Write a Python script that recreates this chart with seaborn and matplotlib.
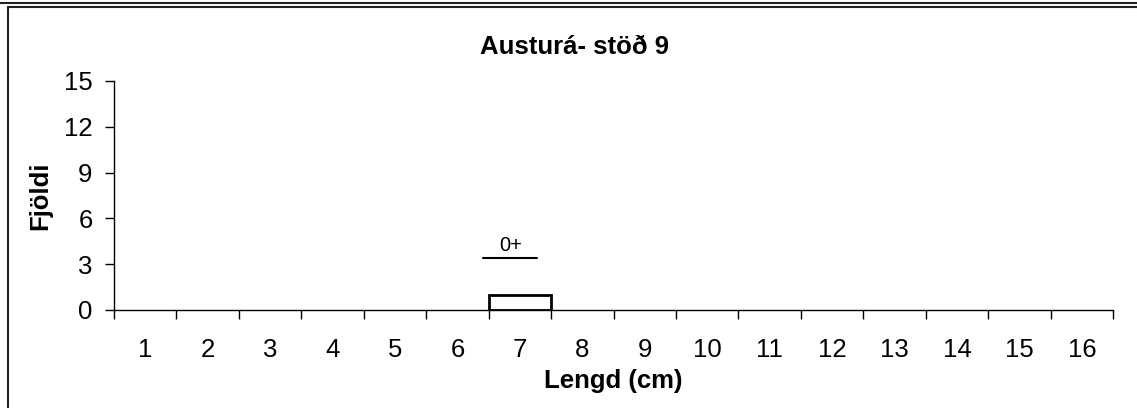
import pandas as pd
import matplotlib
matplotlib.use("Agg")
import matplotlib.pyplot as plt
from matplotlib.lines import Line2D
import seaborn as sns

# gögn: lengdardreifing
lengdir = list(range(1, 17))
fjoldi = [0, 0, 0, 0, 0, 0, 1, 0, 0, 0, 0, 0, 0, 0, 0, 0]
aldur_merki = "0+"
titill = "Austurá- stöð 9"

df = pd.DataFrame({"Lengd": [str(x) for x in lengdir], "Fjoldi": fjoldi})

sns.set_style("white", {"text.color": "black", "axes.labelcolor": "black",
                        "xtick.color": "black", "ytick.color": "black"})
plt.rcParams["font.family"] = ["Liberation Sans", "DejaVu Sans"]

fig = plt.figure(figsize=(11.37, 4.08), dpi=100)
ax = fig.add_axes([0.1003, 0.2402, 0.8787, 0.5613])

sns.barplot(x="Lengd", y="Fjoldi", data=df, ax=ax, width=1.0,
            color="white", edgecolor="black", linewidth=2, saturation=1)
for p in ax.patches:
    if p.get_height() == 0:
        p.set_visible(False)

ax.set_xlim(-0.5, 15.5)
ax.set_ylim(0, 15)
ax.set_yticks(range(0, 16, 3))
ax.set_xticks(range(16))
ax.set_xticklabels([str(x) for x in lengdir])
ax.set_xticks([i - 0.5 for i in range(17)], minor=True)
ax.tick_params(axis="x", which="major", length=0, pad=20, labelsize=18.5, labelcolor="black")
ax.tick_params(axis="x", which="minor", length=6.5, width=1, direction="out", color="black", bottom=True)
ax.tick_params(axis="y", length=6.5, width=1, direction="out", color="black", left=True, pad=9,
               labelsize=18.5, labelcolor="black")

sns.despine(ax=ax)
for s in ["left", "bottom"]:
    ax.spines[s].set_color("black")
    ax.spines[s].set_linewidth(1)

ax.set_xlabel("Lengd (cm)", fontsize=18.5, fontweight="bold", labelpad=5, color="black")
ax.set_ylabel("Fjöldi", fontsize=18.5, fontweight="bold", labelpad=8, color="black")

# aldursmerki yfir súlunni
idx = fjoldi.index(1)
ax.plot([idx - 0.59, idx + 0.28], [3.4, 3.4], color="black", linewidth=1.5)
ax.text(idx - 0.15, 3.6, aldur_merki, ha="center", va="bottom", fontsize=14.5, color="black")

fig.text(574 / 1137, 1 - 47 / 408, titill, ha="center", va="center",
         fontsize=18.5, fontweight="bold", color="black")

# rammi
fig.add_artist(Line2D([8 / 1137, 8 / 1137], [0, 1 - 7 / 408], transform=fig.transFigure,
                      color="#222222", linewidth=1.5))
fig.add_artist(Line2D([8 / 1137, 1], [1 - 7 / 408, 1 - 7 / 408], transform=fig.transFigure,
                      color="#222222", linewidth=1.5))
fig.add_artist(Line2D([0, 1], [1 - 3 / 408, 1 - 3 / 408], transform=fig.transFigure,
                      color="#222222", linewidth=1.5))

fig.savefig("out.png", dpi=100)
